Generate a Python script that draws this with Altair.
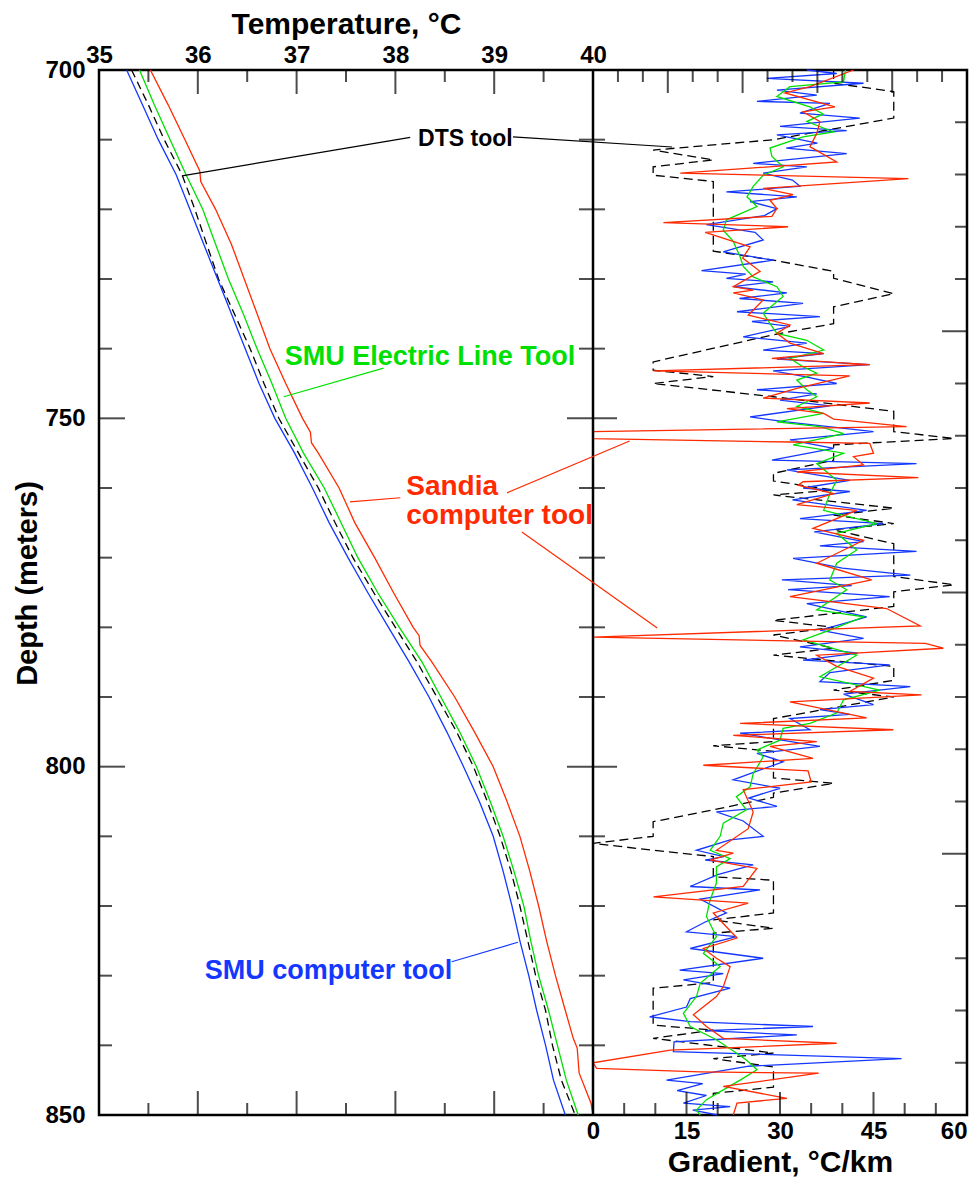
import altair as alt
import pandas as pd

FONT = "Liberation Sans"
RED = "#ff2a00"
GREEN = "#00e000"
BLUE = "#1437ff"
BLACK = "#000000"

# ---------------- Temperature profiles (left panel) ----------------
depth_t = [700, 705, 710, 715, 720, 725, 730, 735, 740, 745, 750, 755, 760, 765,
           770, 775, 780, 785, 790, 795, 800, 805, 810, 815, 820, 825, 830, 835,
           840, 845, 850]
temp_smu_computer = [35.28, 35.44, 35.60, 35.78, 35.92, 36.06, 36.20, 36.34, 36.48,
                     36.62, 36.78, 36.98, 37.16, 37.33, 37.52, 37.72, 37.93, 38.14,
                     38.34, 38.52, 38.69, 38.85, 38.99, 39.09, 39.18, 39.26, 39.35,
                     39.43, 39.52, 39.60, 39.72]
temp_dts = [35.33, 35.50, 35.66, 35.84, 35.97, 36.09, 36.21, 36.37, 36.53, 36.67,
            36.82, 37.02, 37.22, 37.39, 37.57, 37.78, 38.00, 38.22, 38.42, 38.62,
            38.79, 38.93, 39.06, 39.17, 39.26, 39.34, 39.42, 39.52, 39.59, 39.68,
            39.82]
temp_smu_eline = [35.41, 35.56, 35.72, 35.88, 36.05, 36.18, 36.31, 36.46, 36.60,
                  36.75, 36.89, 37.07, 37.28, 37.45, 37.62, 37.82, 38.04, 38.27,
                  38.46, 38.65, 38.82, 38.96, 39.09, 39.20, 39.30, 39.37, 39.45,
                  39.55, 39.64, 39.73, 39.85]
depth_t_sandia = [700, 705, 710, 714.5, 716, 720, 725, 730, 735, 740, 745, 750, 752,
                  753.5, 755, 760, 765, 770, 775, 780, 781.2, 782.6, 785, 790, 795,
                  800, 805, 810, 815, 820, 825, 830, 835, 839, 840.4, 844, 848.3, 850]
temp_sandia = [35.52, 35.70, 35.87, 36.02, 36.03, 36.18, 36.34, 36.47, 36.60, 36.73,
               36.89, 37.06, 37.14, 37.15, 37.22, 37.43, 37.59, 37.79, 37.98, 38.18,
               38.24, 38.25, 38.37, 38.60, 38.80, 38.99, 39.13, 39.26, 39.36, 39.45,
               39.53, 39.62, 39.72, 39.80, 39.84, 39.86, 39.98, 40.00]

# ---------------- Gradient profiles (right panel) ----------------
depth_g_dts = [700, 701.9, 703.1, 706.9, 710, 711.5, 712.9, 713.9, 715.1, 716, 726,
               727.3, 728.9, 729.9, 732.1, 734, 736.4, 738, 741.9, 743.1, 744, 745,
               746.9, 749, 751.9, 752.9, 753.8, 756, 757.9, 759, 760.3, 761, 762.9,
               763.9, 765.1, 766, 768, 772.7, 773.9, 774.9, 777, 779, 780, 781.1,
               783, 784, 785.6, 787.6, 789, 790, 793.1, 796.4, 797, 797.8, 801.6,
               802.4, 803.8, 804.4, 806.2, 807.9, 810, 811, 812, 812.9, 815.8, 816.3,
               821, 822, 823.2, 823.9, 831, 831.8, 837.1, 837.8, 839, 841.1, 841.9,
               843.1, 846, 846.9, 850]
grad_dts = [38.6, 38.6, 48.25, 48.25, 28.95, 9.65, 19.3, 9.65, 9.65, 19.3, 19.3,
            28.95, 38.6, 38.6, 48.25, 38.6, 38.6, 28.95, 9.65, 9.65, 19.3, 9.65,
            28.95, 48.25, 48.25, 57.9, 38.6, 38.6, 28.95, 28.95, 38.6, 28.95, 48.25,
            38.6, 48.25, 38.6, 48.25, 48.25, 57.9, 48.25, 48.25, 28.95, 38.6, 28.95,
            38.6, 28.95, 48.25, 48.25, 38.6, 48.25, 28.95, 28.95, 19.3, 28.95, 28.95,
            38.6, 28.95, 28.95, 19.3, 9.65, 9.65, 0, 9.65, 19.3, 19.3, 28.95,
            28.95, 19.3, 28.95, 19.3, 19.3, 9.65, 9.65, 19.3, 9.65, 28.95, 19.3,
            28.95, 28.95, 19.3, 19.3]

depth_g_sandia = [700, 702.4, 703.3, 705.3, 706, 707.4, 709.1, 711, 713.2, 714.8, 715.6,
                  717, 717.9, 718.7, 719.9, 721, 721.9, 722.5, 723.3, 725.4, 727, 728.9,
                  731.1, 731.6, 732, 733, 735.2, 736.6, 737.8, 739.2, 740.7, 741.4,
                  742.3, 743.2, 743.9, 745.7, 747.1, 747.8, 748.6, 749.3, 750.1, 751.2,
                  751.9, 752.9, 753.4, 753.6, 755, 755.5, 756.7, 757.7, 758.5, 759.1,
                  759.6, 760.8, 762.4, 763.2, 765.8, 767.5, 770.8, 773.2, 775.6, 777.3,
                  779.8, 781.4, 782.3, 783, 784, 785.6, 787.3, 789.2, 789.7, 790.7, 793,
                  793.8, 794.7, 795.5, 796.4, 797.1, 798.8, 799.8, 800.6, 802.2, 803.3,
                  806.5, 808.9, 812, 812.4, 813.4, 814.6, 817.2, 818.7, 819.6, 821,
                  824.6, 826.1, 827.5, 828.7, 831.6, 833, 835.6, 837.3, 839, 839.7,
                  840.7, 842.5, 843.3, 843.8, 844, 845.9, 847.6, 848.3, 850]
grad_sandia = [41.8, 34.8, 30.8, 38.8, 33.7, 36.4, 35.9, 34.8, 39.1, 14.0, 50.6,
               27.3, 32.1, 28.4, 29.5, 28.7, 11.3, 31.3, 18.0, 25.2, 24.0, 26.8,
               22.5, 25.7, 22.5, 27.3, 24.9, 31.6, 29.5, 31.6, 37.0, 28.7,
               44.4, 9.7, 41.2, 32.7, 27.3, 44.4, 31.1, 37.0, 38.6, 50.3,
               0.0, 0.0, 31.6, 44.4, 45.0, 41.8, 43.4, 32.7, 52.2, 33.7,
               32.9, 38.6, 32.7, 42.3, 35.3, 43.4, 35.9, 44.7, 31.6, 47.1,
               52.5, 0.0, 53.3, 56.2, 35.9, 39.1, 45.0, 41.2, 52.7, 31.6, 43.9,
               23.6, 48.2, 22.5, 35.9, 28.4, 35.3, 17.7, 34.5, 35.0, 24.1,
               25.7, 24.9, 19.8, 22.5, 18.8, 26.3, 24.1, 9.7, 24.9, 19.3,
               23.1, 17.7, 19.8, 22.0, 20.9, 19.8, 16.1, 18.2, 20.9, 39.1,
               12.4, 0.0, 0.6, 17.2, 36.2, 20.9, 31.1, 23.1, 22.5]

depth_g_eline = [700, 701.7, 702.4, 703.8, 705.3, 706.3, 707.4, 708.9, 709.6, 711.2,
                 712.4, 713.9, 715.1, 716.7, 718.2, 719.6, 721.5, 723, 724.6, 726.8,
                 728.2, 729.7, 731.1, 732.5, 734.9, 736.4, 737.8, 738.8, 740.2, 741.4,
                 742.6, 743.5, 744.5, 745.9, 746.9, 748.3, 749.3, 750.5, 751.2, 752.2,
                 753.8, 755, 756.5, 758.9, 760.8, 763.2, 765.1, 766.5, 768.9, 770.8,
                 773.2, 774.6, 777.5, 778.5, 780.4, 781.8, 784, 787.1, 789, 790.4,
                 792.3, 793.8, 794.5, 796.2, 797.6, 798.6, 801, 802.9, 804.3, 806.2,
                 808.1, 810, 812, 813.2, 814.4, 816.7, 819.1, 821.5, 824.4, 826.8,
                 828.7, 831.1, 833, 835.4, 837.3, 839.2, 841.1, 842.1, 843.5, 845,
                 846.4, 847.8, 849.3, 850]
grad_eline = [40.5, 40.2, 31.6, 29.5, 34.8, 36.9, 34.3, 38.6, 33.7, 28.4,
              28.7, 30.5, 27.3, 25.7, 24.7, 26.3, 21.4, 20.9, 22.5, 23.6,
              24.1, 25.7, 29.5, 30.5, 27.3, 28.4, 29.5, 34.3, 37.0, 31.6,
              33.7, 35.9, 32.7, 34.3, 35.9, 32.7, 37.0, 29.5, 36.4, 40.2,
              32.1, 40.2, 35.9, 39.1, 38.0, 37.0, 45.5, 39.1, 42.3, 39.1,
              38.0, 40.7, 35.9, 43.4, 38.0, 33.7, 42.3, 36.4, 46.0, 40.2,
              39.1, 34.8, 30.5, 30.0, 26.3, 27.3, 25.7, 25.2, 23.0, 24.6,
              20.9, 20.4, 18.8, 22.0, 19.8, 19.8, 18.8, 18.2, 19.8, 17.7,
              20.4, 17.2, 16.6, 14.5, 15.6, 19.8, 23.0, 24.6, 26.3, 23.6,
              20.9, 18.2, 16.6, 17.2]

depth_g_computer = [700, 700.5, 701.2, 701.9, 702.9, 703.6, 704.5, 704.8, 706.2, 706.9,
                    708.1, 708.7, 709.3, 710.5, 711.2, 712, 713.4, 713.9, 714.8, 715.8,
                    716.7, 717.5, 718.2, 718.9, 719.9, 720.9, 722.2, 723.3, 724.4,
                    726.1, 727.3, 728.8, 729.3, 729.9, 730.4, 731.1, 732, 732.8, 733.5,
                    734.7, 735.4, 736.1, 736.8, 738.3, 739.2, 740.2, 740.7, 741.5,
                    742.3, 743.2, 744, 745, 745.9, 746.5, 747.4, 748.2, 749.8, 750.5,
                    751.9, 753.1, 754.3, 756, 756.5, 757.4, 758.9, 760, 760.5, 761.7,
                    763.2, 764.4, 765.1, 766.3, 767.7, 768.3, 769.1, 770.1, 771.5,
                    772.5, 773.2, 774, 774.6, 775.6, 776.6, 778.5, 779.4, 780.4, 781.6,
                    782.8, 783.7, 784.7, 785.4, 786.5, 787.8, 788.5, 789.6, 791.1,
                    791.8, 792.5, 793.1, 794.7, 795.2, 797.1, 798.1, 799.3, 801, 801.9,
                    803.1, 804.5, 805.7, 806.5, 807.8, 810, 810.5, 812, 812.9, 813.4,
                    814.1, 815.5, 817.2, 817.7, 819, 821, 822.3, 823.7, 824.4, 826.1,
                    827.5, 829.2, 829.7, 830.6, 831.8, 833.3, 834.5, 835.9, 836.6,
                    837.3, 837.9, 838.5, 839.5, 840.9, 841.9, 843, 845, 845.5, 846.5,
                    847.2, 848.3, 848.8, 849.3, 850]
grad_computer = [34.3, 39.1, 27.9, 43.4, 29.5, 35.9, 26.3, 38.0, 33.2, 42.8,
                 30.0, 40.7, 29.5, 36.0, 31.0, 40.7, 25.7, 34.3, 27.3, 32.0,
                 33.2, 21.4, 32.7, 25.2, 29.5, 27.5, 18.2, 26.0, 27.3,
                 20.9, 28.9, 17.4, 24.5, 21.4, 28.9, 22.5, 31.1, 23.5, 33.7,
                 23.1, 36.4, 25.5, 31.6, 24.1, 34.3, 27.3, 37.0, 29.5,
                 44.4, 28.9, 34.0, 39.1, 26.3, 35.9, 30.0, 38.0, 25.2, 31.0,
                 45.0, 31.6, 38.6, 28.7, 51.9, 31.1, 41.2, 33.7, 41.2, 32.0,
                 43.9, 33.2, 46.6, 35.5, 43.4, 36.4, 51.9, 32.1, 40.0,
                 50.9, 30.3, 41.5, 31.3, 47.6, 34.3, 43.9, 40.5, 36.4, 43.4,
                 33.2, 42.5, 33.7, 47.6, 38.0, 36.4, 50.9, 40.2, 45.0,
                 36.4, 41.2, 31.6, 34.8, 23.6, 36.4, 26.3, 30.5, 25.2, 22.5,
                 30.0, 25.0, 29.5, 19.8, 24.1, 27.3, 22.0, 16.6, 21.0, 18.0,
                 25.7, 20.0, 15.6, 26.8, 17.2, 21.4, 18.0, 15.0, 23.0, 15.6,
                 27.3, 13.9, 20.9, 14.5, 22.0, 15.6, 15.0, 9.1, 15.6,
                 35.3, 18.0, 32.7, 13.0, 12.9, 49.5, 25.0, 11.8, 17.6, 13.5,
                 18.2, 14.5, 22.0, 16.0, 20.0]

# ---------------- axis tick values ----------------
depth_labels = [700, 750, 800, 850]
temp_labels = [35, 36, 37, 38, 39, 40]
grad_labels = [0, 15, 30, 45, 60]
depth_minor = [710, 720, 730, 740, 760, 770, 780, 790, 810, 820, 830, 840]
depth_major = [750, 800]
temp_minor = [35.5, 36.5, 37.5, 38.5, 39.5]
temp_major = [36, 37, 38, 39]
grad_top_minor = [4, 8, 16, 20, 28, 32, 40, 44, 52, 56]
grad_top_major = [12, 24, 36, 48]
grad_bot_minor = [5, 10, 20, 25, 35, 40, 50, 55]
grad_bot_major = [15, 30, 45]
depth_right_minor = [707.5, 715, 722.5, 730, 745, 752.5, 760, 767.5, 782.5, 790,
                     797.5, 805, 820, 827.5, 835, 842.5]
depth_right_major = [737.5, 775, 812.5]

# ---------------- scales ----------------
sT = alt.Scale(domain=[35, 40], range=[0, 494], nice=False, zero=False)
sG = alt.Scale(domain=[0, 60], range=[494, 868], nice=False, zero=False)
sY = alt.Scale(domain=[700, 850], range=[0, 1045], nice=False, zero=False)

lab = dict(labelFont=FONT, labelFontSize=24, labelFontWeight="bold", labelColor=BLACK,
           labelFlush=False, labelOverlap=False, ticks=False, tickSize=0, domain=False,
           grid=False, titleFont=FONT, titleFontWeight="bold", titleColor=BLACK)

y_axis = alt.Axis(orient="left", values=depth_labels, format="d", title="Depth (meters)",
                  labelPadding=14, titleFontSize=29, titlePadding=2, titleY=513, **lab)
top_axis = alt.Axis(orient="top", values=temp_labels, format="d", title="Temperature, °C",
                    labelPadding=3, titleFontSize=30, titleY=-37,
                    titleBaseline="alphabetic", **lab)
bot_axis = alt.Axis(orient="bottom", values=grad_labels, format="d", title="Gradient, °C/km",
                    labelPadding=4, titleFontSize=30, titleY=56,
                    titleBaseline="alphabetic",
                    labelAlign={"condition": {"test": "datum.value >= 60", "value": "right"},
                                "value": "center"},
                    **lab)


def line_layer(d, v, scale, color, dash=None, xaxis=None, yaxis=None, width=1.3):
    kw = dict(color=color, strokeWidth=width)
    if dash:
        kw["strokeDash"] = dash
    return alt.Chart(pd.DataFrame({"d": d, "v": v})).mark_line(**kw).encode(
        x=alt.X("v:Q", scale=scale, axis=xaxis),
        y=alt.Y("d:Q", scale=sY, axis=yaxis),
        order=alt.Order("d:Q"),
    )


def vticks(vals, scale, anchor, length, down):
    df = pd.DataFrame({"v": vals, "a": [anchor] * len(vals)})
    off = length / 2.0 if down else -length / 2.0
    return alt.Chart(df).mark_tick(orient="vertical", size=length, thickness=2,
                                   color=BLACK, yOffset=off).encode(
        x=alt.X("v:Q", scale=scale, axis=None),
        y=alt.Y("a:Q", scale=sY, axis=None),
    )


def hticks(depths, scale, anchor, length, xoff):
    df = pd.DataFrame({"d": depths, "a": [anchor] * len(depths)})
    return alt.Chart(df).mark_tick(orient="horizontal", size=length, thickness=2,
                                   color=BLACK, xOffset=xoff).encode(
        x=alt.X("a:Q", scale=scale, axis=None),
        y=alt.Y("d:Q", scale=sY, axis=None),
    )


def text_layer(label, T, d, color, size):
    df = pd.DataFrame({"T": [T], "d": [d]})
    return alt.Chart(df).mark_text(text=label, font=FONT, fontSize=size, fontWeight="bold",
                                   color=color, align="left", baseline="alphabetic").encode(
        x=alt.X("T:Q", scale=sT, axis=None),
        y=alt.Y("d:Q", scale=sY, axis=None),
    )


def leader(T1, d1, T2, d2, color):
    df = pd.DataFrame({"T1": [T1], "d1": [d1], "T2": [T2], "d2": [d2]})
    return alt.Chart(df).mark_rule(color=color, strokeWidth=1.2).encode(
        x=alt.X("T1:Q", scale=sT, axis=None), x2="T2:Q",
        y=alt.Y("d1:Q", scale=sY, axis=None), y2="d2:Q",
    )


layers = [
    # temperature panel
    line_layer(depth_t, temp_dts, sT, BLACK, dash=[8, 5], xaxis=top_axis, yaxis=y_axis),
    line_layer(depth_t, temp_smu_computer, sT, BLUE),
    line_layer(depth_t, temp_smu_eline, sT, GREEN),
    line_layer(depth_t_sandia, temp_sandia, sT, RED),
    # gradient panel
    line_layer(depth_g_dts, grad_dts, sG, BLACK, dash=[9, 5], xaxis=bot_axis),
    line_layer(depth_g_computer, grad_computer, sG, BLUE),
    line_layer(depth_g_eline, grad_eline, sG, GREEN),
    line_layer(depth_g_sandia, grad_sandia, sG, RED),
    # middle divider
    alt.Chart(pd.DataFrame({"T": [40], "d1": [700], "d2": [850]})).mark_rule(
        color=BLACK, strokeWidth=2.5).encode(
        x=alt.X("T:Q", scale=sT, axis=None), y=alt.Y("d1:Q", scale=sY, axis=None), y2="d2:Q"),
    # inward ticks
    hticks(depth_minor, sT, 35, 13, 6.5),
    hticks(depth_major, sT, 35, 26, 13),
    hticks(depth_minor, sT, 40, 26, -1),
    hticks(depth_major, sT, 40, 50, -1),
    hticks(depth_right_minor, sG, 60, 12, -6),
    hticks(depth_right_major, sG, 60, 25, -12.5),
    vticks(temp_minor, sT, 700, 12, True),
    vticks(temp_major, sT, 700, 24, True),
    vticks(temp_minor, sT, 850, 12, False),
    vticks(temp_major, sT, 850, 24, False),
    vticks(grad_top_minor, sG, 700, 12, True),
    vticks(grad_top_major, sG, 700, 23, True),
    vticks(grad_bot_minor, sG, 850, 12, False),
    vticks(grad_bot_major, sG, 850, 23, False),
    # annotations
    leader(38.15, 709.66, 35.84, 715.2, BLACK),
    leader(39.19, 709.6, 40.80, 711.05, BLACK),
    leader(37.88, 742.8, 36.87, 746.9, GREEN),
    leader(38.05, 761.4, 37.54, 762.0, RED),
    leader(39.13, 760.7, 40.37, 753.25, RED),
    leader(39.28, 766.3, 40.65, 780.1, RED),
    leader(38.57, 828.0, 39.24, 825.2, BLUE),
    text_layer("DTS tool", 38.23, 710.87, BLACK, 23),
    text_layer("SMU Electric Line Tool", 36.88, 742.34, GREEN, 27),
    text_layer("Sandia", 38.11, 761.0, RED, 28),
    text_layer("computer tool", 38.11, 765.1, RED, 28),
    text_layer("SMU computer tool", 36.07, 830.47, BLUE, 27),
]

chart = alt.layer(*layers).resolve_scale(x="independent", y="shared").resolve_axis(
    y="independent").properties(
    width=868, height=1045,
    autosize=alt.AutoSizeParams(type="none"),
    padding={"left": 91, "top": 62, "right": 4, "bottom": 63},
    background="white",
).configure_view(stroke=BLACK, strokeWidth=2.5)

chart.save("out.html", embed_options={"renderer": "svg", "actions": False})
